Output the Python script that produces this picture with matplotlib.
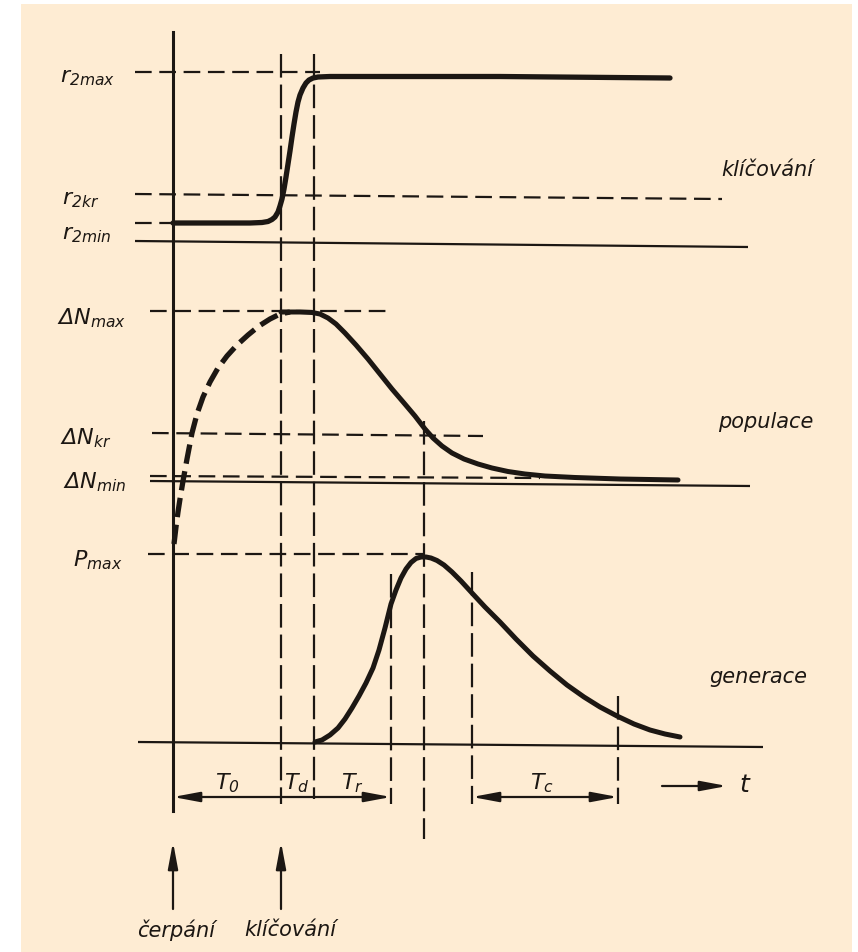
"""Timing diagram of a Q-switched laser pulse: losses, inversion and output."""

import matplotlib
matplotlib.use("Agg")
import matplotlib.pyplot as plt

INK = "#1c1713"
PAPER = "#feecd3"

plt.rcParams["mathtext.fontset"] = "custom"
plt.rcParams["mathtext.it"] = "DejaVu Sans:italic"
plt.rcParams["mathtext.rm"] = "DejaVu Sans:italic"
plt.rcParams["lines.scale_dashes"] = False

# --- drawing data (units follow the drawing sheet) ---------------------

# resonator loss r2: held low, switched to r2max at keying
r2_x = [173, 250, 262, 268, 272, 275, 278, 280, 282, 284, 286, 288, 290, 292,
        294, 296, 298, 300, 303, 306, 309, 313, 318, 330, 500, 670]
r2_y = [224, 224, 223.5, 222.5, 220.5, 218, 213, 207, 200, 190, 178, 165, 152,
        138, 125, 113, 103, 96, 89, 84, 81, 79, 78, 77.5, 77.5, 79]

# population inversion, pumping part (dashed) and decay after keying
pump_x = [174, 176, 178, 180, 183, 187, 192, 197, 203, 210, 218, 227, 237,
          248, 259, 270, 280, 290]
pump_y = [545, 528, 513, 500, 482, 460, 434, 415, 398, 383, 369, 357, 346,
          336, 327, 320, 315, 313]
decay_x = [281, 300, 312, 320, 328, 336, 345, 356, 368, 380, 392, 404, 415,
           425, 433, 442, 452, 464, 478, 492, 508, 525, 545, 575, 620, 678]
decay_y = [313, 313, 313.5, 315, 319, 325, 334, 346, 360, 375, 390, 404, 417,
           430, 439, 447, 454, 460, 465, 469, 472.5, 475, 477, 478.5, 480, 481]

# generated pulse
gen_x = [315, 322, 330, 338, 345, 352, 359, 366, 373, 379, 385, 391, 396, 401,
         406, 411, 416, 421, 426, 431, 437, 444, 452, 461, 472, 485, 500, 516,
         533, 550, 567, 584, 600, 617, 634, 650, 665, 680]
gen_y = [743, 741, 736, 729, 720, 709, 697, 684, 669, 651, 629, 605, 591, 579,
         570, 563.5, 559.5, 558, 558, 559, 561.5, 566, 573, 582, 594, 608, 623,
         640, 657, 672, 686, 698, 708, 717, 725, 731, 735, 738]

# reference levels: left/right height, extent, dashed or not
lvl_y0 = [73, 195, 224, 242, 312, 434, 477, 482, 555, 743]
lvl_y1 = [73, 200, 224, 248, 312, 437, 479, 487, 555, 748]
lvl_x0 = [135, 135, 135, 135, 150, 152, 150, 150, 148, 138]
lvl_x1 = [320, 722, 173, 748, 390, 483, 540, 750, 423, 763]
lvl_dashed = [True, True, True, False, True, True, True, False, True, False]

lvl_names = [r"$r_{2max}$", r"$r_{2kr}$", r"$r_{2min}$", r"$\Delta N_{max}$",
             r"$\Delta N_{kr}$", r"$\Delta N_{min}$", r"$P_{max}$"]
lvl_name_x = [60, 62, 62, 57, 60, 63, 73]
lvl_name_y = [78, 200, 235, 318, 438, 482, 560]

# time markers: x, top, bottom
mark_x = [281, 314, 391, 424, 472, 618]
mark_top = [55, 55, 575, 422, 573, 697]
mark_bot = [805, 800, 805, 840, 805, 805]

# intervals
span_names = [r"$T_0$", r"$T_d$", r"$T_r$", r"$T_c$"]
span_x = [227, 297, 352, 542]
span_y = 783

section_names = ["klíčování", "populace", "generace"]
section_x = [767, 766, 758]
section_y = [170, 422, 677]

fig = plt.figure(figsize=(8.58, 9.53), dpi=100, facecolor="white")
ax = fig.add_axes([21 / 858, 0, (852 - 21) / 858, (953 - 5) / 953])
ax.set_facecolor(PAPER)
ax.set_xlim(21, 852)
ax.set_ylim(953, 5)
ax.axis("off")
ax.add_patch(plt.Rectangle((21, 5), 831, 948, color=PAPER, zorder=0))

# reference levels
for y0, y1, x0, x1, d in zip(lvl_y0, lvl_y1, lvl_x0, lvl_x1, lvl_dashed):
    ls = (0, (12, 5.5)) if d else "-"
    ax.plot([x0, x1], [y0, y1], color=INK, lw=1.6, ls=ls, solid_capstyle="butt")

for s, x, y in zip(lvl_names, lvl_name_x, lvl_name_y):
    ax.text(x, y, s, fontsize=16, color=INK, ha="left", va="center")

# main time axis (start of pumping)
ax.plot([173, 173], [33, 812], color=INK, lw=2.2)

# dashed time markers
for x, y0, y1 in zip(mark_x, mark_top, mark_bot):
    ax.plot([x, x], [y0, y1], color=INK, lw=1.6, ls=(0, (17, 5)))

# curves
curve = dict(color=INK, solid_capstyle="round", solid_joinstyle="round")
ax.plot(r2_x, r2_y, lw=3.8, **curve)
ax.plot(pump_x, pump_y, color=INK, lw=3.8, ls=(0, (14, 5.5)),
        dash_capstyle="butt", dash_joinstyle="round")
ax.plot(decay_x, decay_y, lw=3.6, **curve)
ax.plot(gen_x, gen_y, lw=3.6, **curve)

# interval arrows
arr = dict(arrowstyle="<|-|>,head_length=1.6,head_width=0.3", color=INK,
           lw=1.6, shrinkA=0, shrinkB=0, mutation_scale=10)
ax.annotate("", xy=(391, 798), xytext=(173, 798), arrowprops=arr)
ax.annotate("", xy=(618, 798), xytext=(472, 798), arrowprops=arr)
ax.annotate("", xy=(727, 787), xytext=(662, 787),
            arrowprops=dict(arr, arrowstyle="-|>,head_length=1.6,head_width=0.3"))
ax.text(745, 785, r"$t$", fontsize=18, color=INK, ha="center", va="center")

for s, x in zip(span_names, span_x):
    ax.text(x, span_y, s, fontsize=16, color=INK, ha="center", va="center")

# events: pumping and keying
up = dict(arrowstyle="-|>,head_length=1.6,head_width=0.3", color=INK,
          lw=1.6, shrinkA=0, shrinkB=0, mutation_scale=10)
for x in [173, 281]:
    ax.annotate("", xy=(x, 843), xytext=(x, 910), arrowprops=up)
ax.text(176, 930, "čerpání", fontsize=15, color=INK, style="italic",
        ha="center", va="center")
ax.text(290, 930, "klíčování", fontsize=15, color=INK, style="italic",
        ha="center", va="center")

for s, x, y in zip(section_names, section_x, section_y):
    ax.text(x, y, s, fontsize=15, color=INK, style="italic",
            ha="center", va="center")

fig.savefig("out.png", dpi=100, facecolor="white")
